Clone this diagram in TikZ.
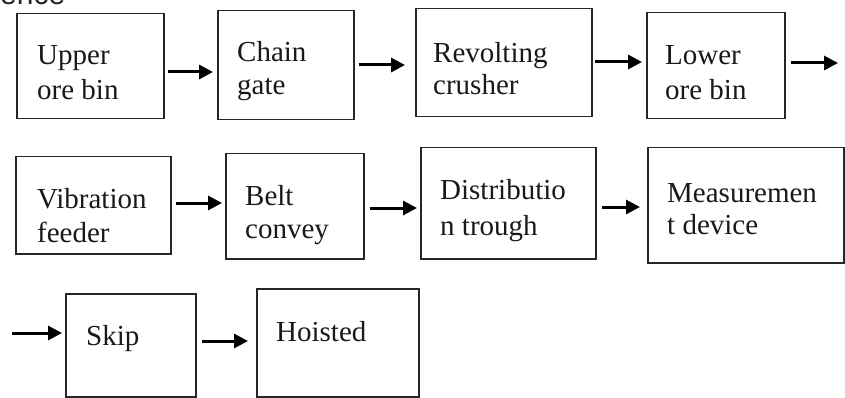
\documentclass[tikz,border=0pt]{standalone}
\usepackage{fontspec}
\setmainfont{Liberation Serif}
\setsansfont{Liberation Sans}
\usetikzlibrary{arrows.meta}
\begin{document}
\begin{tikzpicture}[x=1pt,y=-1pt,
  box/.style={draw=black!85, line width=1.5pt, rectangle, inner sep=0pt, anchor=north west},
  lbl/.style={anchor=base west, inner sep=0pt, font=\fontsize{29}{34}\selectfont, text=black!90},
  arr/.style={line width=3pt, -{Triangle[length=14pt,width=14pt]}}]
\useasboundingbox (0,0) rectangle (845,398);
\fill[white] (0,0) rectangle (845,398);
\begin{scope}
\clip (0,0) rectangle (845,398);
\node[anchor=base west, inner sep=0pt, font=\sffamily\fontsize{30}{36}\selectfont, text=black!85] (head) at (0,5) {ence};
% boxes
\node[box, minimum width=147pt, minimum height=105pt] (b1) at (16,13) {};
\node[box, minimum width=136pt, minimum height=109pt] (b2) at (217,10) {};
\node[box, minimum width=176pt, minimum height=108pt] (b3) at (415,8) {};
\node[box, minimum width=138pt, minimum height=106pt] (b4) at (646,12) {};
\node[box, minimum width=155pt, minimum height=97pt] (b5) at (15,156) {};
\node[box, minimum width=138pt, minimum height=105pt] (b6) at (225,153) {};
\node[box, minimum width=175pt, minimum height=111pt] (b7) at (420,147) {};
\node[box, minimum width=196pt, minimum height=115pt] (b8) at (647,147) {};
\node[box, minimum width=130pt, minimum height=103pt] (b9) at (65,293) {};
\node[box, minimum width=162pt, minimum height=108pt] (b10) at (256,288) {};
\end{scope}
% labels
\node[lbl] (t1a) at (37,65) {Upper};
\node[lbl] (t1b) at (37,100) {ore bin};
\node[lbl] (t2a) at (237,62) {Chain};
\node[lbl] (t2b) at (237,95) {gate};
\node[lbl] (t3a) at (433,63) {Revolting};
\node[lbl] (t3b) at (433,95) {crusher};
\node[lbl] (t4a) at (665,65) {Lower};
\node[lbl] (t4b) at (665,100) {ore bin};
\node[lbl] (t5a) at (37,208) {Vibration};
\node[lbl] (t5b) at (37,242) {feeder};
\node[lbl] (t6a) at (245,205) {Belt};
\node[lbl] (t6b) at (245,238) {convey};
\node[lbl] (t7a) at (440,200) {Distributio};
\node[lbl] (t7b) at (440,235) {n trough};
\node[lbl] (t8a) at (667,202) {Measuremen};
\node[lbl] (t8b) at (667,234) {t device};
\node[lbl] (t9) at (86,345) {Skip};
\node[lbl] (t10) at (276,341) {Hoisted};
% free ends
\coordinate (e4) at (838,63);
\coordinate (s8) at (12,333);
% arrows
\draw[arr, shorten <=3pt, shorten >=4pt] (b1.east |- 0,72) -- (b2.west |- 0,72);
\draw[arr, shorten <=4pt, shorten >=10pt] (b2.east |- 0,65) -- (b3.west |- 0,65);
\draw[arr, shorten <=2pt, shorten >=4pt] (b3.east |- 0,62) -- (b4.west |- 0,62);
\draw[arr, shorten <=5pt] (b4.east |- e4) -- (e4);
\draw[arr, shorten <=4pt, shorten >=3pt] (b5.east |- 0,203) -- (b6.west |- 0,203);
\draw[arr, shorten <=5pt, shorten >=3pt] (b6.east |- 0,208) -- (b7.west |- 0,208);
\draw[arr, shorten <=5pt, shorten >=7pt] (b7.east |- 0,207) -- (b8.west |- 0,207);
\draw[arr, shorten >=3pt] (s8) -- (b9.west |- s8);
\draw[arr, shorten <=5pt, shorten >=8pt] (b9.east |- 0,341) -- (b10.west |- 0,341);
\end{tikzpicture}
\end{document}
